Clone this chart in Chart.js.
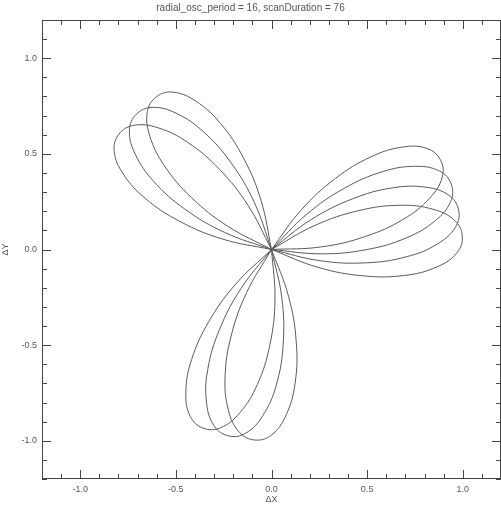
<!DOCTYPE html>
<html>
<head>
<meta charset="utf-8">
<script src="https://cdn.jsdelivr.net/npm/chart.js@4"></script>
<style>
  body { margin: 0; background: #fff; }
</style>
</head>
<body>
<canvas id="myChart" width="501" height="506"></canvas>
<script>
const chartTitle = 'radial_osc_period = 16, scanDuration = 76';
const xLabel = 'ΔX';
const yLabel = 'ΔY';
const majorTicks = [-1.0, -0.5, 0.0, 0.5, 1.0];
const minorTicks = [-1.2, -1.1, -0.9, -0.8, -0.7, -0.6, -0.4, -0.3, -0.2, -0.1,
                    0.1, 0.2, 0.3, 0.4, 0.6, 0.7, 0.8, 0.9, 1.1, 1.2];

// petals as [angle in degrees, radius]
const petal1 = [[-26,0],[-21,0.26],[-16,0.5],[-11,0.71],[-6,0.87],[-1,0.97],[4,1],[9,0.97],[14,0.87],[19,0.71],[24,0.5],[29,0.26],[34,0]];
const petal2 = [[97,0],[102,0.26],[107,0.5],[112,0.71],[117,0.87],[122,0.97],[127,1],[132,0.97],[137,0.87],[142,0.71],[147,0.5],[152,0.26],[157,0]];
const petal3 = [[219,0],[224,0.26],[229,0.5],[234,0.71],[239,0.87],[244,0.97],[249,1],[254,0.97],[259,0.87],[264,0.71],[269,0.5],[274,0.26],[279,0]];
const petal4 = [[-18,0],[-13,0.26],[-8,0.5],[-3,0.71],[2,0.87],[7,0.97],[12,1],[17,0.97],[22,0.87],[27,0.71],[32,0.5],[37,0.26],[42,0]];
const petal5 = [[105,0],[110,0.26],[115,0.5],[120,0.71],[125,0.87],[130,0.97],[135,1],[140,0.97],[145,0.87],[150,0.71],[155,0.5],[160,0.26],[165,0]];
const petal6 = [[227,0],[232,0.26],[237,0.5],[242,0.71],[247,0.87],[252,0.97],[257,1],[262,0.97],[267,0.87],[272,0.71],[277,0.5],[282,0.26],[287,0]];
const petal7 = [[-10,0],[-5,0.26],[0,0.5],[5,0.71],[10,0.87],[15,0.97],[20,1],[25,0.97],[30,0.87],[35,0.71],[40,0.5],[45,0.26],[50,0]];
const petal8 = [[113,0],[118,0.26],[123,0.5],[128,0.71],[133,0.87],[138,0.97],[143,1],[148,0.97],[153,0.87],[158,0.71],[163,0.5],[168,0.26],[173,0]];
const petal9 = [[235,0],[240,0.26],[245,0.5],[250,0.71],[255,0.87],[260,0.97],[265,1],[270,0.97],[275,0.87],[280,0.71],[285,0.5],[290,0.26],[295,0]];
const petal10 = [[-2,0],[3,0.26],[8,0.5],[13,0.71],[18,0.87],[23,0.97],[28,1],[33,0.97],[38,0.87],[43,0.71],[48,0.5],[53,0.26],[58,0]];

const petals = [petal1, petal2, petal3, petal4, petal5, petal6, petal7, petal8, petal9, petal10];

const font = 'Liberation Sans, Arial, sans-serif';
const textColor = '#555';

function toXY(p) {
    return p.map(([a, r]) => ({
        x: r * Math.cos(a * Math.PI / 180),
        y: r * Math.sin(a * Math.PI / 180)
    }));
}

function fmt(v) {
    return v.toFixed(1);
}

// frame plus inward IDL-style ticks on all four sides
const frameTicks = {
    id: 'frameTicks',
    afterDraw(chart) {
        const {ctx, chartArea: a, scales: {x, y}} = chart;
        ctx.save();
        ctx.strokeStyle = '#444';
        ctx.lineWidth = 1;
        ctx.strokeRect(a.left + 0.5, a.top + 0.5, a.right - a.left - 1, a.bottom - a.top - 1);
        const line = (x1, y1, x2, y2) => {
            ctx.beginPath();
            ctx.moveTo(x1, y1);
            ctx.lineTo(x2, y2);
            ctx.stroke();
        };
        const tick = (v, len) => {
            const px = Math.round(x.getPixelForValue(v)) + 0.5;
            line(px, a.bottom, px, a.bottom - len);
            line(px, a.top, px, a.top + len);
            const py = Math.round(y.getPixelForValue(v)) + 0.5;
            line(a.left, py, a.left + len, py);
            line(a.right, py, a.right - len, py);
        };
        majorTicks.forEach(v => tick(v, 9));
        minorTicks.forEach(v => tick(v, 5));
        ctx.restore();
    }
};

const chrt = document.getElementById('myChart');
new Chart(chrt, {
    type: 'scatter',
    data: {
        datasets: petals.map(p => ({
            data: toXY(p),
            showLine: true,
            borderColor: '#5a5a5a',
            borderWidth: 1,
            pointRadius: 0,
            tension: 0.4,
            fill: false
        }))
    },
    options: {
        responsive: false,
        animation: false,
        devicePixelRatio: 1,
        layout: { padding: 0 },
        plugins: {
            legend: { display: false },
            tooltip: { enabled: false },
            title: {
                display: true,
                text: chartTitle,
                color: textColor,
                font: { family: font, size: 10, weight: 'normal' },
                padding: { top: 2, bottom: 6 }
            }
        },
        scales: {
            x: {
                type: 'linear',
                min: -1.2,
                max: 1.2,
                afterBuildTicks: s => { s.ticks = majorTicks.map(v => ({ value: v })); },
                afterFit: s => { s.height = 27; },
                ticks: {
                    callback: v => fmt(v),
                    color: textColor,
                    font: { family: font, size: 9 },
                    padding: 5,
                    maxRotation: 0,
                    autoSkip: false
                },
                grid: { display: false, drawTicks: false },
                border: { display: false },
                title: {
                    display: true,
                    text: xLabel,
                    color: textColor,
                    font: { family: font, size: 9 },
                    padding: { top: 0, bottom: 1 }
                }
            },
            y: {
                type: 'linear',
                min: -1.2,
                max: 1.2,
                afterBuildTicks: s => { s.ticks = majorTicks.map(v => ({ value: v })); },
                afterFit: s => { s.width = 42; },
                ticks: {
                    callback: v => fmt(v),
                    color: textColor,
                    font: { family: font, size: 9 },
                    padding: 5,
                    autoSkip: false
                },
                grid: { display: false, drawTicks: false },
                border: { display: false },
                title: {
                    display: true,
                    text: yLabel,
                    color: textColor,
                    font: { family: font, size: 9 },
                    padding: { top: 0, bottom: 2 }
                }
            }
        }
    },
    plugins: [frameTicks]
});
</script>
</body>
</html>
